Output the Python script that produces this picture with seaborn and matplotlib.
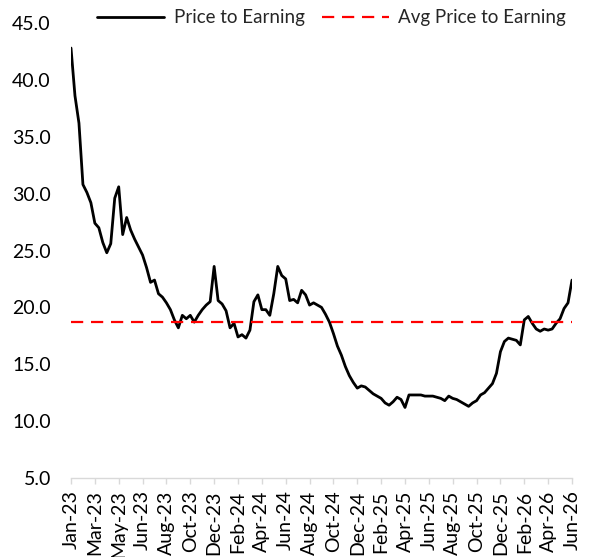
import matplotlib

matplotlib.use("Agg")
import matplotlib.pyplot as plt
import numpy as np
import pandas as pd
import seaborn as sns
from matplotlib.ticker import FormatStrFormatter

# P/E series at evenly spaced points (6 points per tick interval)
PE_VALUES = [
    42.8, 38.6, 36.2, 30.8, 30.1, 29.2, 27.4, 27.0, 25.7, 24.8,
    25.6, 29.6, 30.6, 26.4, 27.9, 26.8, 26.0, 25.3, 24.6, 23.5,
    22.2, 22.4, 21.2, 20.9, 20.4, 19.8, 18.9, 18.2, 19.3, 19.0,
    19.3, 18.7, 19.3, 19.8, 20.2, 20.5, 23.6, 20.6, 20.3, 19.7,
    18.2, 18.6, 17.4, 17.6, 17.3, 18.0, 20.5, 21.1, 19.8, 19.8,
    19.3, 21.2, 23.6, 22.8, 22.5, 20.6, 20.7, 20.4, 21.5, 21.1,
    20.2, 20.4, 20.2, 20.0, 19.4, 18.7, 17.7, 16.6, 15.8, 14.8,
    14.0, 13.4, 12.9, 13.1, 13.0, 12.7, 12.4, 12.2, 12.0, 11.6,
    11.4, 11.7, 12.1, 11.9, 11.2, 12.3, 12.3, 12.3, 12.3, 12.2,
    12.2, 12.2, 12.1, 12.0, 11.8, 12.2, 12.0, 11.9, 11.7, 11.5,
    11.3, 11.6, 11.8, 12.3, 12.5, 12.9, 13.3, 14.2, 16.1, 17.0,
    17.3, 17.2, 17.1, 16.7, 18.9, 19.2, 18.6, 18.1, 17.9, 18.1,
    18.0, 18.1, 18.6, 19.0, 19.9, 20.4, 22.4,
]
AVG_PE = 18.7
TICK_LABELS = [
    "Jan-23", "Mar-23", "May-23", "Jun-23", "Aug-23", "Oct-23", "Dec-23",
    "Feb-24", "Apr-24", "Jun-24", "Aug-24", "Oct-24", "Dec-24", "Feb-25",
    "Apr-25", "Jun-25", "Aug-25", "Oct-25", "Dec-25", "Feb-26", "Apr-26",
    "Jun-26",
]
POINTS_PER_TICK = 6

sns.set_theme(style="white")
plt.rcParams["font.family"] = ["Lato", "DejaVu Sans"]

df = pd.DataFrame({"idx": np.arange(len(PE_VALUES)), "pe": PE_VALUES})
df["avg"] = AVG_PE

fig = plt.figure(figsize=(5.92, 5.57), dpi=100)
ax = fig.add_axes([71 / 592, 1 - 478 / 557, 501 / 592, 455 / 557])

sns.lineplot(data=df, x="idx", y="pe", ax=ax, color="black", linewidth=2.0,
             label="Price to Earning", errorbar=None)
sns.lineplot(data=df, x="idx", y="avg", ax=ax, color="#ff0000", linewidth=1.6,
             linestyle=(0, (5.5, 3.5)), label="Avg Price to Earning", errorbar=None)

ax.set_xlim(0, len(PE_VALUES) - 1)
ax.set_ylim(5, 45)
ax.set_yticks(np.arange(5, 46, 5))
ax.yaxis.set_major_formatter(FormatStrFormatter("%.1f"))
ax.set_xticks(np.arange(0, len(PE_VALUES), POINTS_PER_TICK))
ax.set_xticklabels(TICK_LABELS, rotation=90)
ax.set_xlabel("")
ax.set_ylabel("")

for side in ["top", "right", "left"]:
    ax.spines[side].set_visible(False)
ax.spines["bottom"].set_color("#d9d9d9")
ax.spines["bottom"].set_linewidth(1.0)
ax.tick_params(axis="x", bottom=True, length=4, width=1, color="#d9d9d9",
               pad=5, labelsize=14, labelcolor="#000000")
ax.tick_params(axis="y", left=False, length=0, pad=14.5, labelsize=14, labelcolor="#000000")
ax.grid(False)

ax.legend(loc="center", bbox_to_anchor=(0.56, 1 - 18 / 557), bbox_transform=fig.transFigure,
          ncol=2, frameon=False, fontsize=13.5, handlelength=3.6, handletextpad=0.5,
          columnspacing=0.9, borderaxespad=0)

fig.savefig("out.png", dpi=100)
